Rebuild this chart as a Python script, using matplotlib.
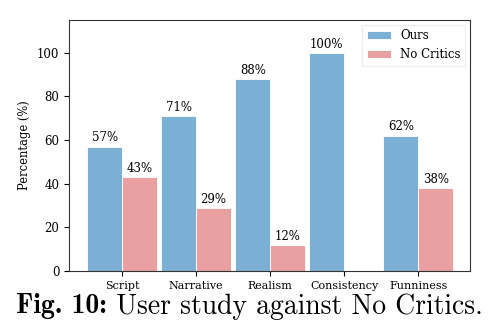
import numpy as np
import matplotlib
matplotlib.use("Agg")
import matplotlib.pyplot as plt

plt.rcParams.update({"font.family": "DejaVu Serif", "font.size": 8,
                     "axes.edgecolor": "#333", "axes.linewidth": 0.8})

CATS = ["Script", "Narrative", "Realism", "Consistency", "Funniness"]
OURS = [57, 71, 88, 100, 62]
NOCRIT = [43, 29, 12, 0, 38]
C_OURS, C_NO = "#7bafd4", "#e8a0a1"

fig = plt.figure(figsize=(4.98, 3.36), dpi=100)
ax = fig.add_axes([0.1386, 0.1935, 0.8054, 0.747])
x = np.arange(len(CATS)); w = 0.47
b1 = ax.bar(x - w/2, OURS, width=w, color=C_OURS, edgecolor="white", linewidth=0.6, label="Ours")
b2 = ax.bar(x + w/2, NOCRIT, width=w, color=C_NO, edgecolor="white", linewidth=0.6, label="No Critics")
for bars, vals in ((b1, OURS), (b2, NOCRIT)):
    for b, v in zip(bars, vals):
        if v > 0:
            ax.text(b.get_x() + b.get_width()/2, v + 1, f"{v}%", ha="center", va="bottom", fontsize=8.5)
ax.set_xticks(x, CATS, fontsize=8)
ax.tick_params(axis="y", labelsize=8.5)
ax.set_ylabel("Percentage (%)", fontsize=8.3)
ax.set_ylim(0, 115); ax.set_xlim(-0.716, 4.70)
ax.legend(loc="upper right", fontsize=8.5, fancybox=False, framealpha=1, edgecolor="#eee",
          handlelength=2.0, borderaxespad=0.4)

# caption: bold label + regular text, laid out side by side
fs = 19.9
t1 = fig.text(0, 0.088, "Fig. 10:", family="cmb10", fontsize=fs, va="center")
t2 = fig.text(0, 0.088, " User study against No Critics.", family="cmr10", fontsize=fs, va="center")
r = fig.canvas.get_renderer()
w1 = t1.get_window_extent(r).width; w2 = t2.get_window_extent(r).width
x0 = (fig.bbox.width - w1 - w2) / 2
t1.set_x(x0 / fig.bbox.width); t2.set_x((x0 + w1) / fig.bbox.width)
fig.savefig("out.png", dpi=100)
